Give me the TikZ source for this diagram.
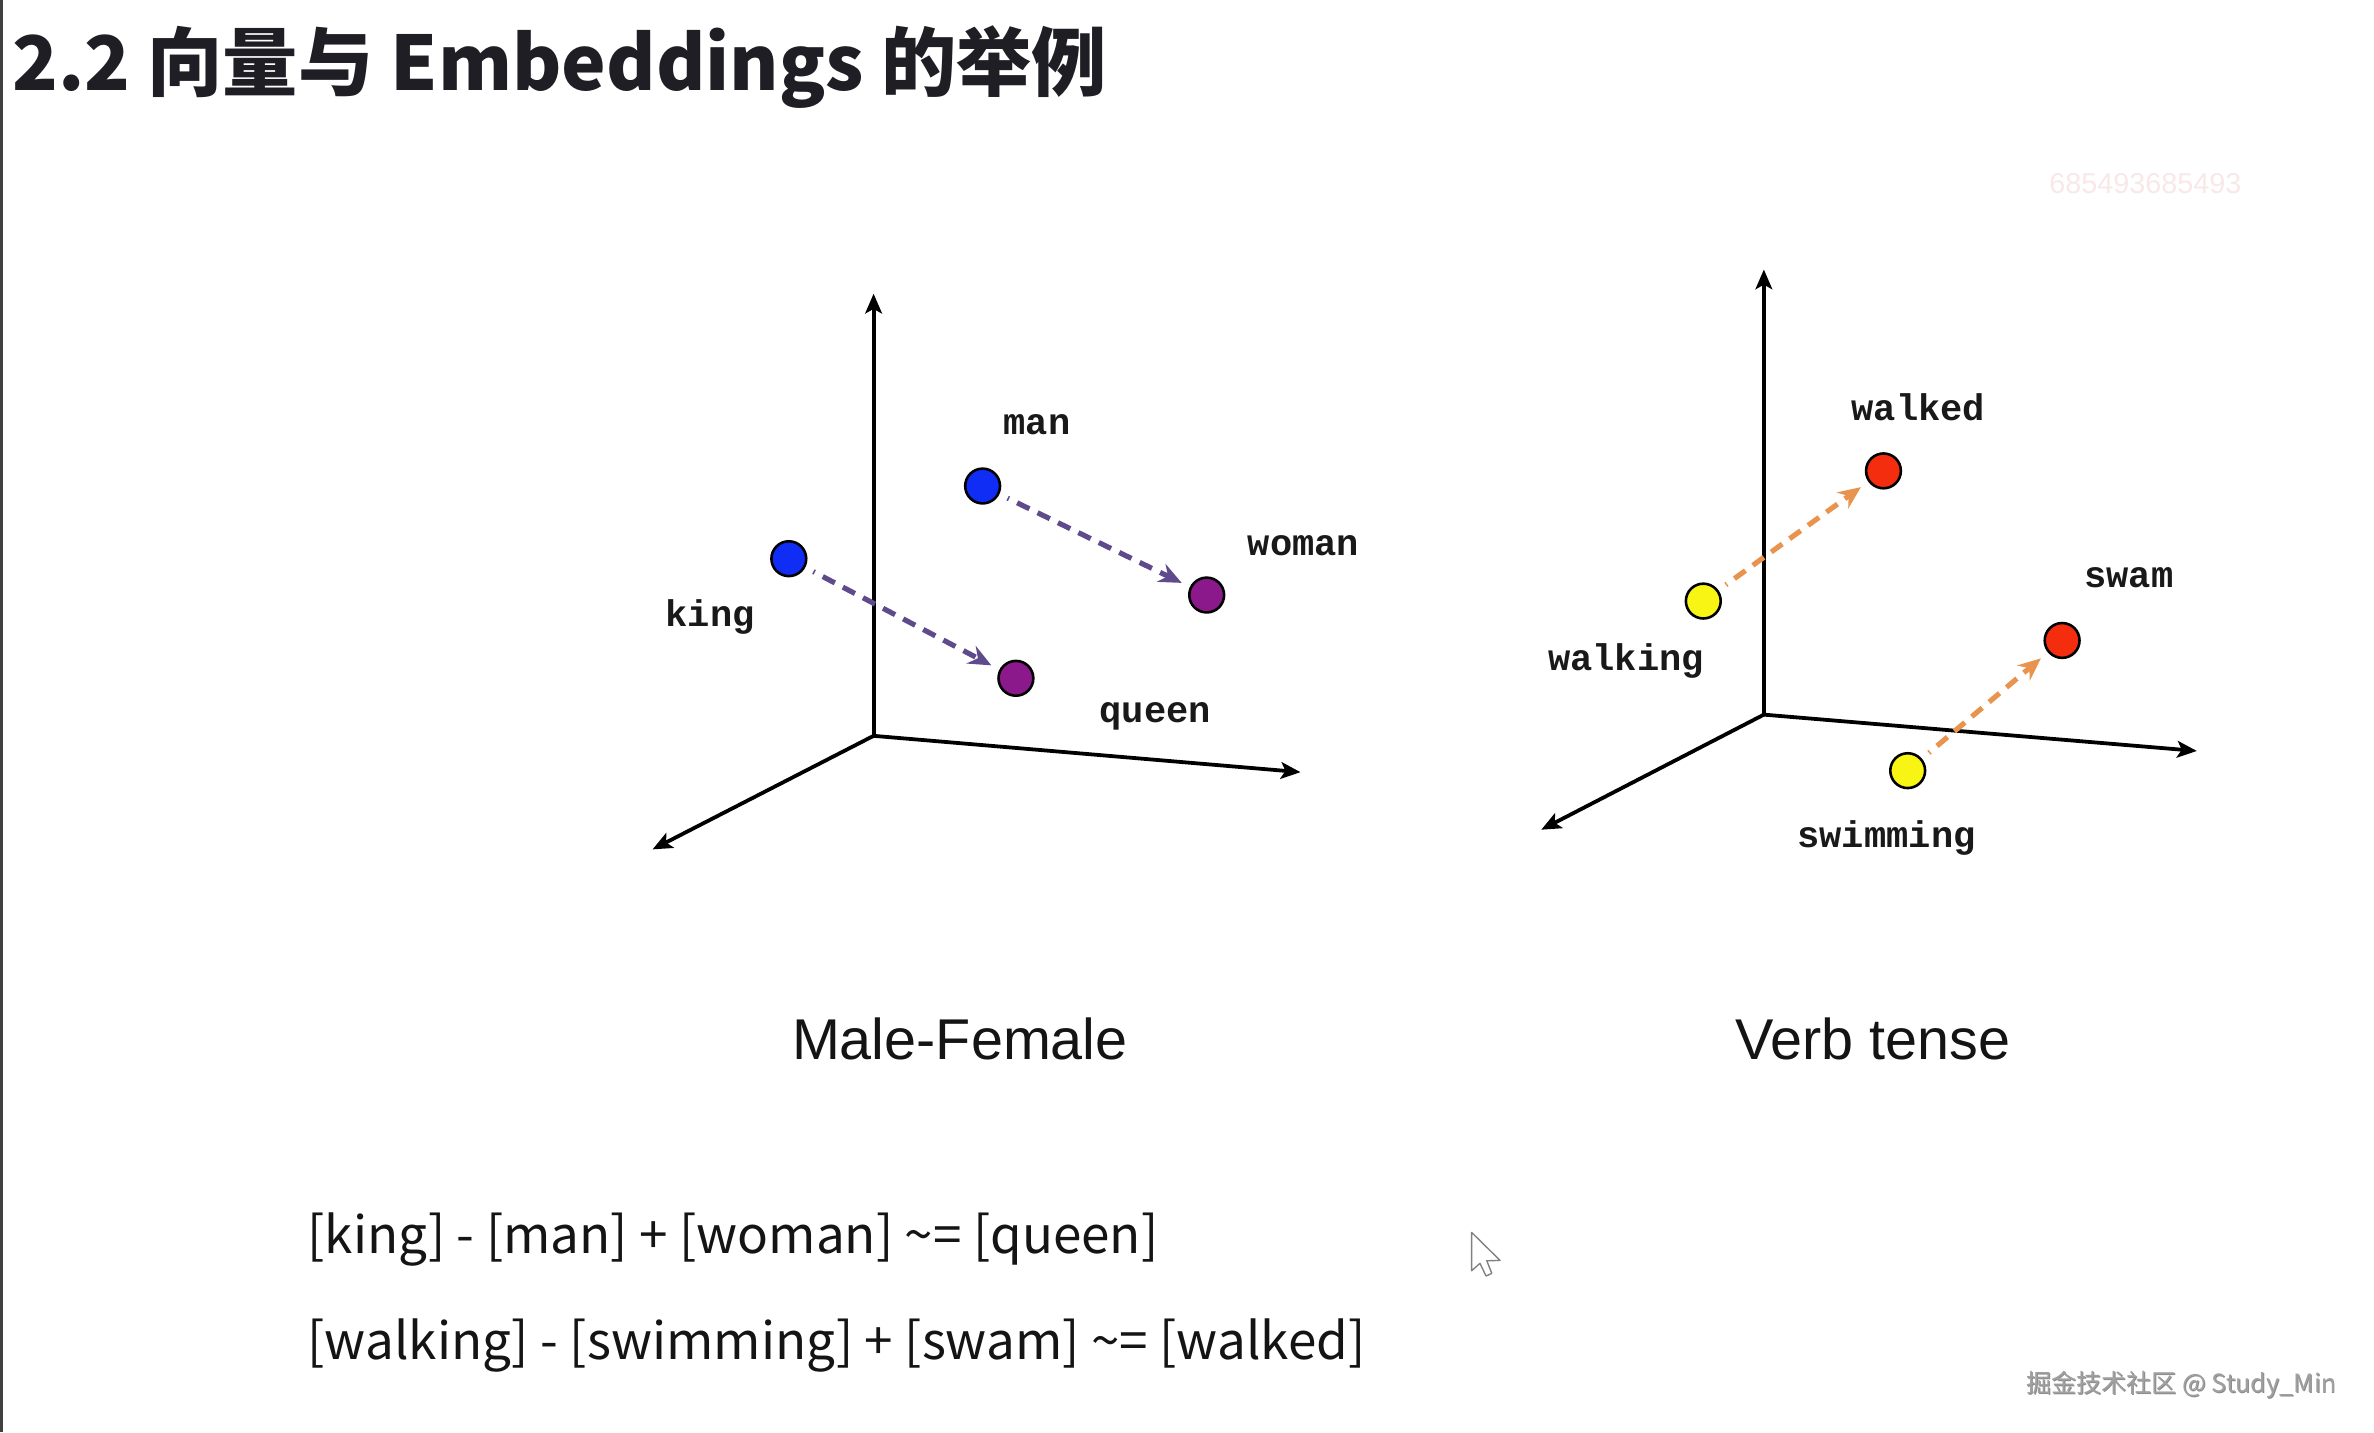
\documentclass[tikz,border=0pt]{standalone}
\usepackage{fontspec}
\setmainfont{Liberation Sans}
\newfontfamily\cjk{Noto Sans CJK SC}
\newfontfamily\monof{Liberation Mono}
\usetikzlibrary{arrows.meta}
\definecolor{ptblue}{RGB}{15,45,245}
\definecolor{ptpurple}{RGB}{140,25,140}
\definecolor{ptyellow}{RGB}{248,245,20}
\definecolor{ptred}{RGB}{245,45,15}
\definecolor{arrpurple}{RGB}{95,75,140}
\definecolor{arrorange}{RGB}{232,148,78}
\definecolor{wmpink}{RGB}{250,232,232}
\definecolor{titlecol}{RGB}{30,30,36}
\definecolor{wmgray}{RGB}{160,160,160}
\begin{document}
\begin{tikzpicture}[x=1pt,y=-1pt,
  axis/.style={line width=2.5pt,-{Stealth[length=13pt,width=11pt,inset=3pt]}},
  pt/.style={circle,draw=black,line width=1.7pt,minimum size=23pt,inner sep=0pt},
  lbl/.style={font=\monof\bfseries\fontsize{24.5}{24.5}\selectfont,anchor=base,inner sep=0pt,text=black!90},
  vecp/.style={dash pattern=on 9pt off 6pt,dash phase=8pt,line width=3.4pt,draw=arrpurple,
    -{Stealth[length=15pt,width=13pt,inset=5pt]},shorten <=6pt,shorten >=6pt},
  veco/.style={vecp,draw=arrorange},
  caption/.style={font=\fontsize{38}{38}\selectfont,anchor=base,inner sep=0pt,text=black!92},
  eqn/.style={font=\cjk\fontsize{33.8}{33.8}\selectfont,anchor=base west,inner sep=0pt,text=black!92}
]
\fill[white] (0,0) rectangle (1568,946);
\useasboundingbox (0,0) rectangle (1568,946);
\draw[line width=2pt,black!75] (1,0) -- (1,946);

% title
\node[font=\cjk\bfseries\fontsize{49.7}{49.7}\selectfont,anchor=base west,inner sep=0pt,text=titlecol]
  (title) at (8,60) {2.2 向量与 Embeddings 的举例};
\node[font=\fontsize{19}{19}\selectfont,text=wmpink,inner sep=0pt] (wmtop) at (1417,121) {685493685493};

% left diagram axes
\coordinate (o1) at (577,486);
\coordinate (o1up) at (577,194);
\coordinate (o1r) at (859,510);
\coordinate (o1l) at (431,561);
\draw[axis] (o1) -- (o1up);
\draw[axis] (o1) -- (o1r);
\draw[axis] (o1) -- (o1l);

\node[pt,fill=ptblue] (king) at (521,369) {};
\node[pt,fill=ptblue] (man) at (649,321) {};
\node[pt,fill=ptpurple] (woman) at (797,393) {};
\node[pt,fill=ptpurple] (queen) at (671,448) {};
\draw[vecp] (king) -- (queen);
\draw[vecp] (man) -- (woman);
\node[lbl] (lman) at (685,287) {man};
\node[lbl] (lwoman) at (861,367) {woman};
\node[lbl] (lking) at (469,414) {king};
\node[lbl] (lqueen) at (763,477) {queen};

% right diagram axes
\coordinate (o2) at (1165,472);
\coordinate (o2up) at (1165,178);
\coordinate (o2r) at (1451,496);
\coordinate (o2l) at (1018,548);
\draw[axis] (o2) -- (o2up);
\draw[axis] (o2) -- (o2r);
\draw[axis] (o2) -- (o2l);

\node[pt,fill=ptyellow] (walking) at (1125,397) {};
\node[pt,fill=ptred] (walked) at (1244,311) {};
\node[pt,fill=ptyellow] (swimming) at (1260,509) {};
\node[pt,fill=ptred] (swam) at (1362,423) {};
\draw[veco] (walking) -- (walked);
\draw[veco] (swimming) -- (swam);
\node[lbl] (lwalked) at (1267,278) {walked};
\node[lbl] (lwalking) at (1074,443) {walking};
\node[lbl] (lswam) at (1406,388) {swam};
\node[lbl] (lswimming) at (1246,560) {swimming};

% captions
\node[caption] (capmf) at (634,700) {Male-Female};
\node[caption] (capvt) at (1237,700) {Verb tense};

% equations
\node[eqn] (eq1) at (203,828) {[king] - [man] + [woman] \textasciitilde= [queen]};
\node[eqn] (eq2) at (203,898) {[walking] - [swimming] + [swam] \textasciitilde= [walked]};

% cursor
\draw[gray,line width=0.9pt,fill=white,line join=round]
  (972,814) -- (972,839.3) -- (977.5,834.4) -- (981.5,842.8) -- (985.3,841) -- (982,832.7) -- (990.8,832.5) -- cycle;

% bottom watermark
\node[font=\cjk\fontsize{16.6}{16.6}\selectfont,anchor=base west,inner sep=0pt,text=black!45] (wmshadow) at (1338.6,920.6) {掘金技术社区 @ Study\_Min};
\node[font=\cjk\fontsize{16.6}{16.6}\selectfont,anchor=base west,inner sep=0pt,text=wmgray] (wmbot) at (1338,920) {掘金技术社区 @ Study\_Min};
\end{tikzpicture}
\end{document}
